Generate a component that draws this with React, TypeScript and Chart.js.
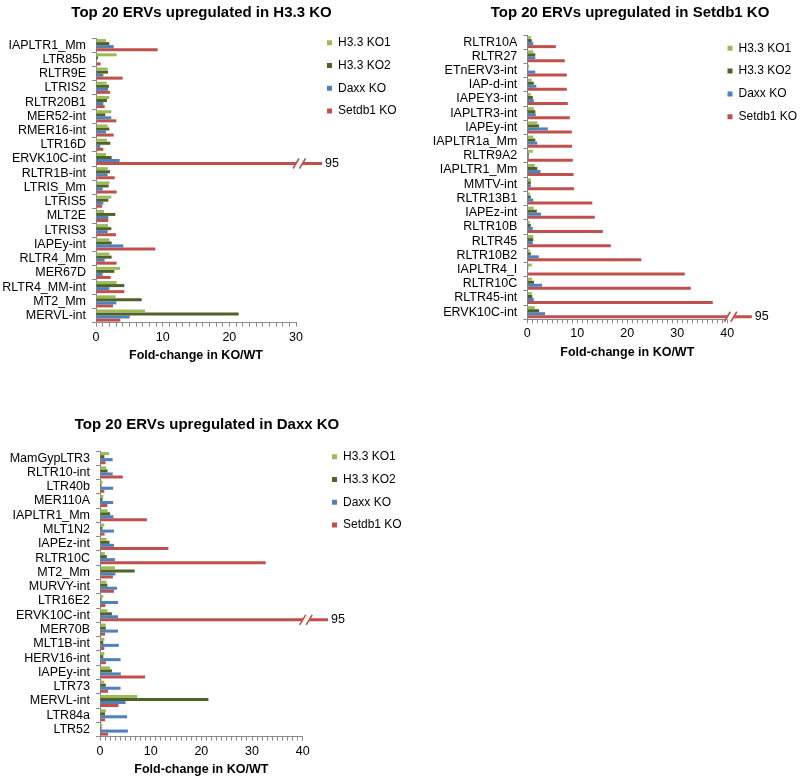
import React, { useEffect, useRef } from 'react';
import { Chart, registerables } from 'chart.js';

Chart.register(...registerables);

// ---------- shared series ----------
const SERIES_NAMES = ['H3.3 KO1', 'H3.3 KO2', 'Daxx KO', 'Setdb1 KO'];
const SERIES_COLORS = ['#9BBB59', '#4F6228', '#4F81BD', '#C0504D'];
const AXIS_TITLE = 'Fold-change in KO/WT';

// ---------- panel 1: H3.3 KO ----------
const h33Title = 'Top 20 ERVs upregulated in H3.3 KO';
const h33Categories = ['IAPLTR1_Mm', 'LTR85b', 'RLTR9E', 'LTRIS2', 'RLTR20B1', 'MER52-int', 'RMER16-int', 'LTR16D', 'ERVK10C-int', 'RLTR1B-int', 'LTRIS_Mm', 'LTRIS5', 'MLT2E', 'LTRIS3', 'IAPEy-int', 'RLTR4_Mm', 'MER67D', 'RLTR4_MM-int', 'MT2_Mm', 'MERVL-int'];
const h33Ko1 = [1.5, 3.1, 1.75, 1.6, 2.0, 2.3, 1.75, 1.65, 1.5, 1.75, 2.0, 2.3, 1.2, 1.8, 2.0, 2.0, 3.6, 3.1, 2.95, 7.35];
const h33Ko2 = [2.0, 0.3, 1.8, 1.95, 1.65, 1.4, 2.0, 2.15, 2.35, 2.1, 1.9, 1.85, 2.9, 2.3, 2.35, 2.35, 2.75, 4.25, 6.85, 21.4];
const h33Daxx = [2.65, 0.1, 1.1, 1.8, 1.1, 2.3, 1.5, 0.65, 3.55, 1.75, 1.0, 1.1, 1.85, 1.75, 4.1, 1.3, 1.0, 2.0, 3.05, 5.05];
const h33Setdb1 = [9.25, 0.7, 4.0, 2.1, 1.3, 3.05, 2.65, 1.1, 95, 2.8, 3.1, 0.9, 1.85, 3.0, 8.9, 3.1, 2.2, 4.25, 2.55, 3.65];
const h33XMax = 30;

// ---------- panel 2: Setdb1 KO ----------
const setTitle = 'Top 20 ERVs upregulated in Setdb1 KO';
const setCategories = ['RLTR10A', 'RLTR27', 'ETnERV3-int', 'IAP-d-int', 'IAPEY3-int', 'IAPLTR3-int', 'IAPEy-int', 'IAPLTR1a_Mm', 'RLTR9A2', 'IAPLTR1_Mm', 'MMTV-int', 'RLTR13B1', 'IAPEz-int', 'RLTR10B', 'RLTR45', 'RLTR10B2', 'IAPLTR4_I', 'RLTR10C', 'RLTR45-int', 'ERVK10C-int'];
const setKo1 = [0.7, 1.2, 0.4, 0.9, 0.7, 1.3, 2.0, 1.2, 1.1, 1.5, 0.7, 0.5, 1.3, 0.5, 1.2, 0.5, 0.9, 0.95, 0.9, 1.5];
const setKo2 = [0.9, 1.6, 0.2, 1.3, 1.1, 1.6, 2.35, 1.6, 0.3, 2.0, 0.7, 0.7, 1.9, 0.7, 1.2, 0.7, 0.2, 1.35, 1.0, 2.35];
const setDaxx = [1.2, 1.6, 1.6, 1.8, 1.3, 1.7, 4.1, 2.0, 0.3, 2.65, 0.7, 1.2, 2.75, 1.1, 1.1, 2.3, 0.1, 2.95, 1.3, 3.55];
const setSetdb1 = [5.7, 7.5, 7.9, 7.9, 8.1, 8.5, 8.9, 8.95, 9.1, 9.25, 9.35, 13.0, 13.5, 15.1, 16.7, 22.8, 31.5, 32.7, 37.1, 95];
const setXMax = 40;

// ---------- panel 3: Daxx KO ----------
const daxxTitle = 'Top 20 ERVs upregulated in Daxx KO';
const daxxCategories = ['MamGypLTR3', 'RLTR10-int', 'LTR40b', 'MER110A', 'IAPLTR1_Mm', 'MLT1N2', 'IAPEz-int', 'RLTR10C', 'MT2_Mm', 'MURVY-int', 'LTR16E2', 'ERVK10C-int', 'MER70B', 'MLT1B-int', 'HERV16-int', 'IAPEy-int', 'LTR73', 'MERVL-int', 'LTR84a', 'LTR52'];
const daxxKo1 = [1.8, 1.2, 0.5, 0.65, 1.5, 0.85, 1.3, 0.95, 2.95, 1.3, 0.65, 1.5, 1.15, 0.85, 0.85, 2.0, 0.85, 7.35, 1.15, 0.45];
const daxxKo2 = [0.85, 1.5, 0.3, 0.5, 2.0, 0.5, 1.9, 1.35, 6.85, 1.45, 0.3, 2.35, 1.15, 0.65, 0.65, 2.35, 1.15, 21.4, 1.0, 0.3];
const daxxDaxx = [2.5, 2.5, 2.6, 2.6, 2.65, 2.75, 2.75, 2.95, 3.05, 3.35, 3.55, 3.55, 3.55, 3.7, 4.05, 4.1, 4.05, 5.05, 5.35, 5.5];
const daxxSetdb1 = [1.1, 4.5, 0.85, 1.45, 9.25, 0.9, 13.5, 32.7, 2.55, 2.75, 1.05, 95, 1.0, 0.85, 1.15, 8.9, 1.6, 3.65, 1.0, 1.6];
const daxxXMax = 40;

// ---------- styles ----------
const FONT = "'Liberation Sans', Arial, Helvetica, sans-serif";
const TITLE_SIZE = 15;
const TICK_SIZE = 12.5;
const LEGEND_SIZE = 12;
const AXIS_TITLE_SIZE = 12.5;
const TICK_LEN = 4;
const TICK_PAD = 3;
const AXIS_GREY = '#8a8a8a';
const LEGEND_BOX_W = 30;
const LEGEND_PAD = 10.8;
const LEGEND_SWATCH = 5;
const LEGEND_DRAW_W = 160;
const LEGEND_DRAW_H = 140;

type Layout = {
  left: number; top: number; width: number; height: number;
  areaLeft: number; areaRight: number; areaTop: number; areaBottom: number;
  titleX: number; titleY: number; axisTitleY: number;
  legendX: number; legendY: number; breakOverflow: number;
};

const placer = {
  id: 'placer',
  afterLayout(chart: any, _args: any, opts: any) {
    const t = chart.titleBlock;
    if (t && opts.titleX != null) {
      const w = t.right - t.left;
      t.left = opts.titleX - w / 2;
      t.right = opts.titleX + w / 2;
    }
    const lg = chart.legend;
    if (lg && opts.legendX != null) {
      lg.left = opts.legendX - LEGEND_PAD;
      lg.right = lg.left + LEGEND_DRAW_W;
      lg.width = LEGEND_DRAW_W;
      lg.top = opts.legendY - LEGEND_PAD - opts.itemHeight / 2;
      lg.bottom = lg.top + LEGEND_DRAW_H;
      lg.height = LEGEND_DRAW_H;
    }
  },
};

const breakMarks = {
  id: 'breakMarks',
  afterDatasetsDraw(chart: any) {
    const xs = chart.scales.x;
    const ctx = chart.ctx;
    const max = xs.max;
    const xb = xs.getPixelForValue(max);
    chart.data.datasets.forEach((ds: any, di: number) => {
      if (!ds.fullValues) return;
      const meta = chart.getDatasetMeta(di);
      ds.fullValues.forEach((v: number, i: number) => {
        if (v <= max) return;
        const el: any = meta.data[i];
        const yc = el.y;
        const hh = el.height / 2 + 1;
        const s1 = xb;
        const s2 = xb + 6.5;
        const dx = 3, dy = 5;
        const k = dx / dy;
        ctx.save();
        ctx.fillStyle = '#ffffff';
        ctx.beginPath();
        ctx.moveTo(s1 - k * hh, yc + hh);
        ctx.lineTo(s1 + k * hh, yc - hh);
        ctx.lineTo(s2 + k * hh, yc - hh);
        ctx.lineTo(s2 - k * hh, yc + hh);
        ctx.closePath();
        ctx.fill();
        ctx.strokeStyle = ds.backgroundColor;
        ctx.lineWidth = 1.6;
        [s1, s2].forEach((s) => {
          ctx.beginPath();
          ctx.moveTo(s - dx, yc + dy);
          ctx.lineTo(s + dx, yc - dy);
          ctx.stroke();
        });
        ctx.fillStyle = '#000000';
        ctx.font = `${TICK_SIZE}px ${FONT}`;
        ctx.textBaseline = 'middle';
        ctx.textAlign = 'left';
        ctx.fillText(String(v), el.x + 3, yc);
        ctx.restore();
      });
    });
  },
};

type PanelProps = { title: string; categories: string[]; series: number[][]; xMax: number; layout: Layout };

function Panel({ title, categories, series, xMax, layout }: PanelProps) {
  const ref = useRef<HTMLCanvasElement>(null);
  useEffect(() => {
    const L = layout;
    const titleLH = TITLE_SIZE * 1.2;
    const tickLH = TICK_SIZE * 1.2;
    const axTitleLH = AXIS_TITLE_SIZE * 1.2;
    const xtPt = Math.max(0, L.axisTitleY - L.areaBottom - TICK_LEN - 2 * TICK_PAD - tickLH - axTitleLH / 2);
    const xtPb = 1;
    const axisBottom = L.areaBottom + TICK_LEN + 2 * TICK_PAD + tickLH + axTitleLH + xtPt + xtPb;
    const cap = xMax + L.breakOverflow;
    const chart = new Chart(ref.current as HTMLCanvasElement, {
      type: 'bar',
      data: {
        labels: categories,
        datasets: series.map((vals, i) => ({
          label: SERIES_NAMES[i],
          data: vals.map((v) => Math.min(v, cap)),
          fullValues: vals,
          backgroundColor: SERIES_COLORS[i],
          borderWidth: 0,
          clip: false,
          categoryPercentage: 0.85,
          barPercentage: 1,
        })) as any,
      },
      options: {
        indexAxis: 'y',
        responsive: false,
        animation: false,
        events: [],
        layout: {
          padding: {
            left: 0,
            top: 0,
            right: L.width - L.areaRight - LEGEND_BOX_W,
            bottom: Math.max(0, L.height - axisBottom),
          },
        },
        scales: {
          x: {
            type: 'linear',
            min: 0,
            max: xMax,
            grid: { display: true, drawOnChartArea: false, drawTicks: true, tickLength: TICK_LEN, color: AXIS_GREY, lineWidth: 1 },
            border: { display: true, color: AXIS_GREY, width: 1 },
            ticks: {
              stepSize: 1,
              autoSkip: false,
              maxRotation: 0,
              padding: TICK_PAD,
              color: '#000000',
              font: { family: FONT, size: TICK_SIZE },
              callback: (v: any) => (Number(v) % 10 === 0 ? String(v) : ''),
            },
            title: {
              display: true,
              text: AXIS_TITLE,
              color: '#000000',
              font: { family: FONT, size: AXIS_TITLE_SIZE, weight: 'bold' },
              padding: { top: xtPt, bottom: xtPb },
            },
          },
          y: {
            type: 'category',
            grid: { display: true, drawOnChartArea: false, offset: true, drawTicks: true, tickLength: TICK_LEN, color: AXIS_GREY, lineWidth: 1 },
            border: { display: true, color: AXIS_GREY, width: 1 },
            ticks: { autoSkip: false, padding: 6, color: '#000000', font: { family: FONT, size: TICK_SIZE } },
            afterFit: (s: any) => { s.width = L.areaLeft; },
          },
        },
        plugins: {
          title: {
            display: true,
            text: title,
            color: '#000000',
            font: { family: FONT, size: TITLE_SIZE, weight: 'bold' },
            padding: { top: L.titleY - titleLH / 2, bottom: L.areaTop - L.titleY - titleLH / 2 },
          },
          legend: {
            display: true,
            position: 'right',
            align: 'start',
            fullSize: false,
            maxWidth: LEGEND_BOX_W,
            labels: {
              boxWidth: LEGEND_SWATCH,
              boxHeight: LEGEND_SWATCH,
              padding: LEGEND_PAD,
              color: '#000000',
              font: { family: FONT, size: LEGEND_SIZE },
            },
          },
          tooltip: { enabled: false },
          placer: { titleX: L.titleX, legendX: L.legendX, legendY: L.legendY, itemHeight: LEGEND_SIZE },
        } as any,
      },
      plugins: [placer, breakMarks],
    } as any);
    return () => chart.destroy();
  }, []);
  return (
    <canvas
      ref={ref}
      width={layout.width}
      height={layout.height}
      style={{ position: 'absolute', left: layout.left, top: layout.top, width: layout.width, height: layout.height }}
    />
  );
}

const layoutH33: Layout = {
  left: 0, top: 0, width: 420, height: 380,
  areaLeft: 96, areaRight: 296, areaTop: 38, areaBottom: 322.7,
  titleX: 201.5, titleY: 13.3, axisTitleY: 355.7,
  legendX: 327, legendY: 42.7, breakOverflow: 3.9,
};
const layoutSet: Layout = {
  left: 420, top: 0, width: 380, height: 380,
  areaLeft: 107.3, areaRight: 307.3, areaTop: 35, areaBottom: 319.3,
  titleX: 210, titleY: 13.3, axisTitleY: 352.7,
  legendX: 307.5, legendY: 48.3, breakOverflow: 4.9,
};
const layoutDaxx: Layout = {
  left: 0, top: 410, width: 420, height: 368,
  areaLeft: 100, areaRight: 302.7, areaTop: 41, areaBottom: 326.7,
  titleX: 207, titleY: 15, axisTitleY: 358.3,
  legendX: 332, legendY: 46.7, breakOverflow: 5,
};

export default function App() {
  return (
    <div style={{ position: 'absolute', left: 0, top: 0, width: 800, height: 778, background: '#ffffff', overflow: 'hidden' }}>
      <Panel title={h33Title} categories={h33Categories} series={[h33Ko1, h33Ko2, h33Daxx, h33Setdb1]} xMax={h33XMax} layout={layoutH33} />
      <Panel title={setTitle} categories={setCategories} series={[setKo1, setKo2, setDaxx, setSetdb1]} xMax={setXMax} layout={layoutSet} />
      <Panel title={daxxTitle} categories={daxxCategories} series={[daxxKo1, daxxKo2, daxxDaxx, daxxSetdb1]} xMax={daxxXMax} layout={layoutDaxx} />
    </div>
  );
}
